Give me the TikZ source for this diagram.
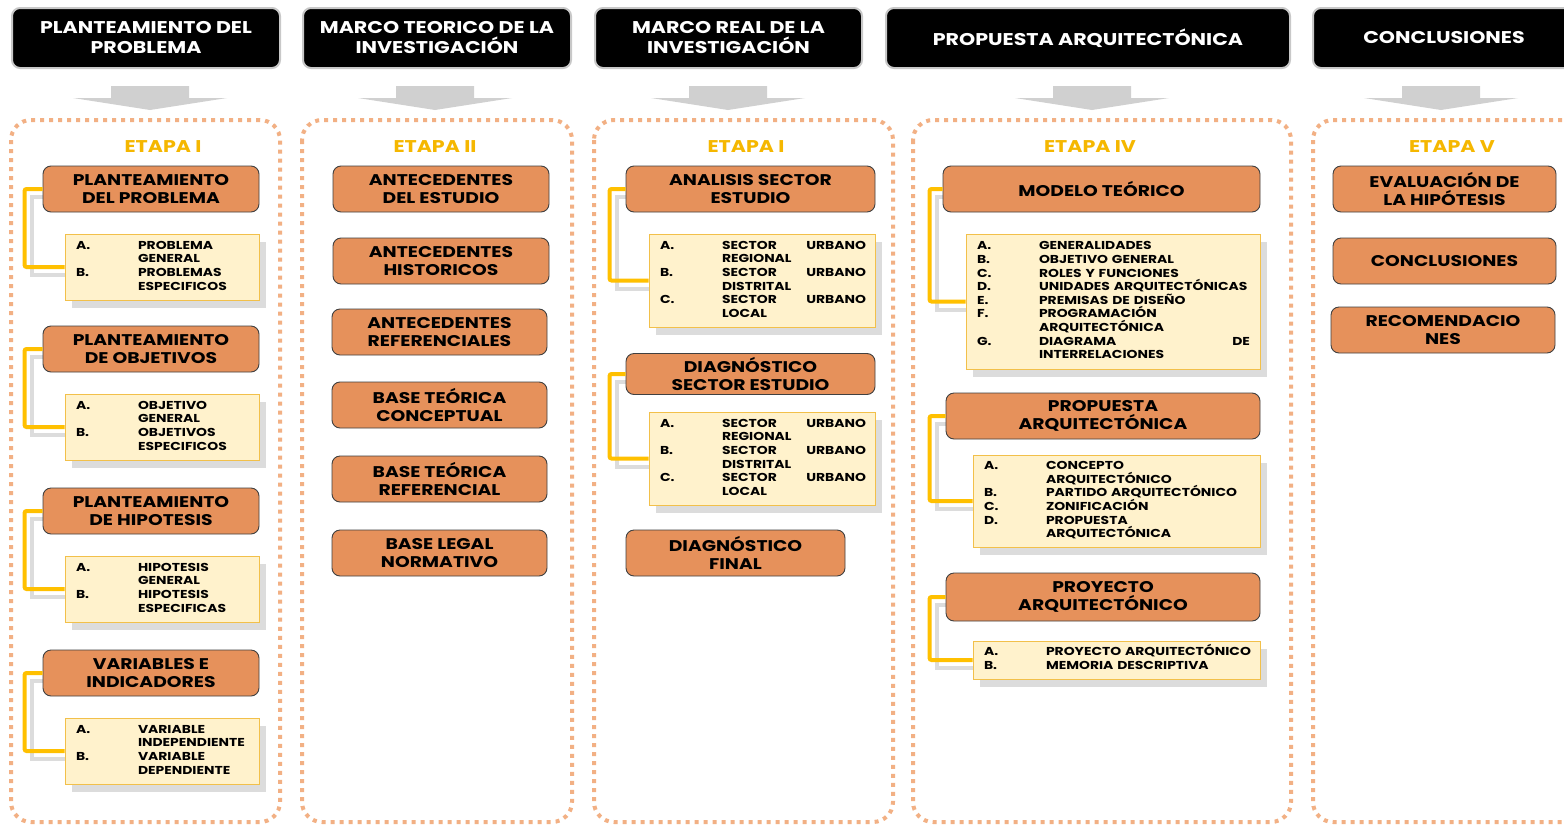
\documentclass[tikz,border=0pt]{standalone}
\usepackage{fontspec}
\setmainfont{Poppins}[FakeStretch=1.21]
\usetikzlibrary{calc}
\pgfdeclarelayer{bg}
\pgfsetlayers{bg,main}

\definecolor{hdrgray}{HTML}{C8C8C8}
\definecolor{orangefill}{HTML}{E6915B}
\definecolor{obord}{HTML}{404040}
\definecolor{listfill}{HTML}{FFF2CC}
\definecolor{lbord}{HTML}{F2C04A}
\definecolor{shadowgray}{HTML}{DCDCDC}
\definecolor{gold}{HTML}{FFC000}
\definecolor{etapac}{HTML}{F5B700}
\definecolor{panelc}{HTML}{F2B084}
\definecolor{arrowgray}{HTML}{D0D0D0}

% list of lettered items: label column + text column (accents kept out of row height)
\newcommand\litems[1]{\begin{tabular}{@{\hspace{11pt}}p{62pt}@{}l@{}}#1\end{tabular}}
\newcommand\sm[1]{\smash{#1}}

\tikzset{
  hdr/.style={draw=hdrgray, line width=2pt, fill=black, rounded corners=8pt,
    text=white, font=\fontsize{17}{20}\selectfont\bfseries, align=center,
    inner sep=0pt, minimum height=60pt},
  obox/.style={draw=obord, line width=0.9pt, fill=orangefill, rounded corners=8pt,
    font=\fontsize{15.5}{18}\selectfont\bfseries, align=center, inner sep=0pt,
    minimum height=46pt},
  lbox/.style={draw=lbord, line width=0.9pt, fill=listfill, inner sep=0pt,
    font=\fontsize{11.5}{13.6}\selectfont\bfseries, align=left},
  conn/.style={draw=gold, line width=4pt, rounded corners=2pt},
  connsh/.style={draw=shadowgray, line width=4pt},
  panel/.style={draw=panelc, line width=4pt, dash pattern=on 4pt off 5pt,
    rounded corners=20pt},
  etapa/.style={text=etapac, font=\fontsize{17}{20}\selectfont\bfseries, inner sep=0pt},
  bigarrow/.pic={\fill[arrowgray] (-39,86) -- (39,86) -- (39,98) -- (77,98)
    -- (0,110) -- (-77,98) -- (-39,98) -- cycle;}
}

\begin{document}
\begin{tikzpicture}[x=1pt,y=-1pt]
\useasboundingbox (0,0) rectangle (1564,825);
\clip (0,0) rectangle (1564,825);

% ---------- headers ----------
\node[hdr, minimum width=268pt] (h1) at (146,38) {PLANTEAMIENTO DEL\\PROBLEMA};
\node[hdr, minimum width=268pt] (h2) at (437,38) {MARCO TEORICO DE LA\\INVESTIGACIÓN};
\node[hdr, minimum width=267pt] (h3) at (728.5,38) {MARCO REAL  DE LA\\INVESTIGACIÓN};
\node[hdr, minimum width=404pt] (h4) at (1088,38) {PROPUESTA ARQUITECTÓNICA};
\node[hdr, minimum width=262pt] (h5) at (1444,38) {CONCLUSIONES};

% ---------- down arrows ----------
\pic at (150,0) {bigarrow};
\pic at (435,0) {bigarrow};
\pic at (728,0) {bigarrow};
\pic at (1092,0) {bigarrow};
\pic at (1441,0) {bigarrow};

% ---------- stage labels ----------
\node[etapa] (e1) at (163,147) {ETAPA I};
\node[etapa] (e2) at (435,147) {ETAPA II};
\node[etapa] (e3) at (746,147) {ETAPA I};
\node[etapa] (e4) at (1090,147) {ETAPA IV};
\node[etapa] (e5) at (1452,147) {ETAPA V};

% ---------- column 1 ----------
\node[obox, minimum width=216pt] (p1) at (151,189) {PLANTEAMIENTO\\DEL PROBLEMA};
\node[lbox, minimum width=194pt, text width=194pt, minimum height=66pt] (l1) at (162,267)
  {\litems{A. & PROBLEMA\\ & GENERAL\\ B. & PROBLEMAS\\ & ESPECIFICOS}};
\node[obox, minimum width=216pt] (p2) at (151,349) {PLANTEAMIENTO\\DE OBJETIVOS};
\node[lbox, minimum width=194pt, text width=194pt, minimum height=66pt] (l2) at (162,427)
  {\litems{A. & OBJETIVO\\ & GENERAL\\ B. & OBJETIVOS\\ & ESPECIFICOS}};
\node[obox, minimum width=216pt] (p3) at (151,511) {PLANTEAMIENTO\\DE HIPOTESIS};
\node[lbox, minimum width=194pt, text width=194pt, minimum height=66pt] (l3) at (162,589)
  {\litems{A. & HIPOTESIS\\ & GENERAL\\ B. & HIPOTESIS\\ & ESPECIFICAS}};
\node[obox, minimum width=216pt] (p4) at (151,673) {VARIABLES E\\INDICADORES};
\node[lbox, minimum width=194pt, text width=194pt, minimum height=66pt] (l4) at (162,751)
  {\litems{A. & VARIABLE\\ & INDEPENDIENTE\\ B. & VARIABLE\\ & DEPENDIENTE}};

% ---------- column 2 ----------
\node[obox, minimum width=216pt] (q1) at (441,189) {ANTECEDENTES\\DEL ESTUDIO};
\node[obox, minimum width=216pt] (q2) at (441,261) {ANTECEDENTES\\HISTORICOS};
\node[obox, minimum width=215pt] (q3) at (439.5,332) {ANTECEDENTES\\REFERENCIALES};
\node[obox, minimum width=215pt] (q4) at (439.5,405) {BASE TEÓRICA\\CONCEPTUAL};
\node[obox, minimum width=215pt] (q5) at (439.5,479) {BASE TEÓRICA\\REFERENCIAL};
\node[obox, minimum width=215pt] (q6) at (439.5,553) {BASE LEGAL\\NORMATIVO};

% ---------- column 3 ----------
\node[obox, minimum width=249pt] (r1) at (750.5,189) {ANALISIS SECTOR\\ESTUDIO};
\node[lbox, minimum width=226pt, text width=226pt, minimum height=93pt] (m1) at (762,280.5)
  {\litems{A. & \makebox[144pt][s]{SECTOR\hfill URBANO}\\ & REGIONAL\\
           B. & \makebox[144pt][s]{SECTOR\hfill URBANO}\\ & DISTRITAL\\
           C. & \makebox[144pt][s]{SECTOR\hfill URBANO}\\ & LOCAL}};
\node[obox, minimum width=249pt, minimum height=41pt] (r2) at (750.5,374) {DIAGNÓSTICO\\SECTOR ESTUDIO};
\node[lbox, minimum width=226pt, text width=226pt, minimum height=93pt] (m2) at (762,458.5)
  {\litems{A. & \makebox[144pt][s]{SECTOR\hfill URBANO}\\ & REGIONAL\\
           B. & \makebox[144pt][s]{SECTOR\hfill URBANO}\\ & DISTRITAL\\
           C. & \makebox[144pt][s]{SECTOR\hfill URBANO}\\ & LOCAL}};
\node[obox, minimum width=219pt] (r3) at (735.5,553) {DIAGNÓSTICO\\FINAL};

% ---------- column 4 ----------
\node[obox, minimum width=317pt] (s1) at (1101.5,189) {MODELO TEÓRICO};
\node[lbox, minimum width=294pt, text width=294pt, minimum height=135pt] (n1) at (1113,301.5)
  {\litems{A. & GENERALIDADES\\ B. & OBJETIVO GENERAL\\ C. & ROLES Y FUNCIONES\\
           D. & \sm{UNIDADES ARQUITECTÓNICAS}\\ E. & \sm{PREMISAS DE DISEÑO}\\
           F. & \sm{PROGRAMACIÓN}\\ & \sm{ARQUITECTÓNICA}\\
           G. & \makebox[211pt][s]{DIAGRAMA\hfill DE}\\ & INTERRELACIONES}};
\node[obox, minimum width=314pt] (s2) at (1103,416) {PROPUESTA\\ARQUITECTÓNICA};
\node[lbox, minimum width=287pt, text width=287pt, minimum height=92pt] (n2) at (1116.5,501)
  {\litems{A. & CONCEPTO\\ & \sm{ARQUITECTÓNICO}\\ B. & \sm{PARTIDO ARQUITECTÓNICO}\\
           C. & \sm{ZONIFICACIÓN}\\ D. & PROPUESTA\\ & \sm{ARQUITECTÓNICA}}};
\node[obox, minimum width=314pt, minimum height=48pt] (s3) at (1103,597) {PROYECTO\\ARQUITECTÓNICO};
\node[lbox, minimum width=287pt, text width=287pt, minimum height=38pt] (n3) at (1116.5,660)
  {\litems{A. & \sm{PROYECTO ARQUITECTÓNICO}\\ B. & MEMORIA DESCRIPTIVA}};

% ---------- column 5 ----------
\node[obox, minimum width=223pt] (t1) at (1444.5,189) {EVALUACIÓN DE\\LA HIPÓTESIS};
\node[obox, minimum width=223pt] (t2) at (1444.5,261) {CONCLUSIONES};
\node[obox, minimum width=224pt] (t3) at (1443,330) {RECOMENDACIO\\NES};

% ---------- connectors ----------
\foreach \a/\b/\d in {p1/l1/18, p2/l2/18, p3/l3/18, p4/l4/18,
                      r1/m1/16, r2/m2/16, s1/n1/13, s2/n2/16, s3/n3/16} {
  \draw[conn] (\a.west) -- ++(-\d,0) |- (\b.west);
}

% ---------- background: panels and shadows ----------
\begin{pgfonlayer}{bg}
  \fill[white] (0,0) rectangle (1564,825);
  \draw[panel] (11,120) rectangle (280,822);
  \draw[panel] (302,120) rectangle (572,822);
  \draw[panel] (594,120) rectangle (893,822);
  \draw[panel] (913,120) rectangle (1291,822);
  \draw[panel] (1313,120) rectangle (1600,822);
  \foreach \b in {l1,l2,l3,l4,m1,m2,n1,n2,n3} {
    \fill[shadowgray] ([shift={(7,8)}]\b.north west) rectangle ([shift={(7,8)}]\b.south east);
  }
  \foreach \a/\b/\d in {p1/l1/18, p2/l2/18, p3/l3/18, p4/l4/18,
                        r1/m1/16, r2/m2/16, s1/n1/13, s2/n2/16, s3/n3/16} {
    \draw[connsh] ([shift={(7,8)}]\a.west) -- ++(-\d,0) |- ([shift={(7,8)}]\b.west);
  }
\end{pgfonlayer}
\end{tikzpicture}
\end{document}
